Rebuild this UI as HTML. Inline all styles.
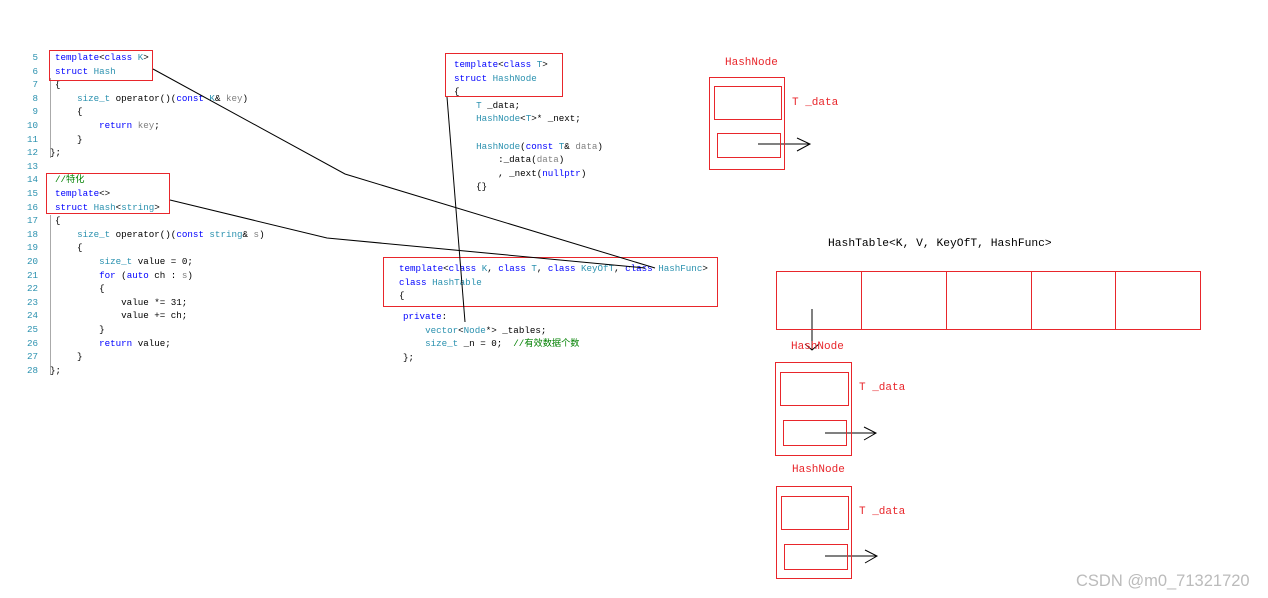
<!DOCTYPE html>
<html><head><meta charset="utf-8"><style>
body{margin:0;width:1268px;height:598px;background:#fff;position:relative;overflow:hidden;font-family:"Liberation Mono","Noto Sans CJK SC",monospace;}
.l{position:absolute;font-size:9.2px;line-height:13.6px;white-space:pre;color:#000;}
.n{position:absolute;font-size:9.2px;line-height:13.6px;color:#2b91af;width:20px;text-align:right;left:18px;}
.k{color:#0000ff}.t{color:#2b91af}.g{color:#808080}.c{color:#008000}
.r{position:absolute;border:1px solid #e8262b;box-sizing:border-box;}
.red{position:absolute;color:#e8262b;font-size:11px;white-space:pre;}
</style></head><body>
<div class="n" style="top:51px">5</div><div class="n" style="top:64.6px">6</div><div class="n" style="top:78.2px">7</div><div class="n" style="top:91.8px">8</div><div class="n" style="top:105.4px">9</div><div class="n" style="top:119px">10</div><div class="n" style="top:132.6px">11</div><div class="n" style="top:146.2px">12</div><div class="n" style="top:159.8px">13</div><div class="n" style="top:173.4px">14</div><div class="n" style="top:187px">15</div><div class="n" style="top:200.6px">16</div><div class="n" style="top:214.2px">17</div><div class="n" style="top:227.8px">18</div><div class="n" style="top:241.4px">19</div><div class="n" style="top:255px">20</div><div class="n" style="top:268.6px">21</div><div class="n" style="top:282.2px">22</div><div class="n" style="top:295.8px">23</div><div class="n" style="top:309.4px">24</div><div class="n" style="top:323px">25</div><div class="n" style="top:336.6px">26</div><div class="n" style="top:350.2px">27</div><div class="n" style="top:363.8px">28</div>
<div style="position:absolute;left:50px;top:78px;width:1px;height:80px;background:#aaa"></div>
<div style="position:absolute;left:50px;top:215px;width:1px;height:160px;background:#aaa"></div>
<div class="l" style="left:55px;top:51px"><span class="k">template</span>&lt;<span class="k">class</span> <span class="t">K</span>&gt;</div>
<div class="l" style="left:55px;top:64.6px"><span class="k">struct</span> <span class="t">Hash</span></div>
<div class="l" style="left:55px;top:78.2px">{</div>
<div class="l" style="left:55px;top:91.8px">    <span class="t">size_t</span> operator()(<span class="k">const</span> <span class="t">K</span>&amp; <span class="g">key</span>)</div>
<div class="l" style="left:55px;top:105.4px">    {</div>
<div class="l" style="left:55px;top:119px">        <span class="k">return</span> <span class="g">key</span>;</div>
<div class="l" style="left:55px;top:132.6px">    }</div>
<div class="l" style="left:50px;top:146.2px">};</div>
<div class="l" style="left:55px;top:173.4px"><span class="c">//特化</span></div>
<div class="l" style="left:55px;top:187px"><span class="k">template</span>&lt;&gt;</div>
<div class="l" style="left:55px;top:200.6px"><span class="k">struct</span> <span class="t">Hash</span>&lt;<span class="t">string</span>&gt;</div>
<div class="l" style="left:55px;top:214.2px">{</div>
<div class="l" style="left:55px;top:227.8px">    <span class="t">size_t</span> operator()(<span class="k">const</span> <span class="t">string</span>&amp; <span class="g">s</span>)</div>
<div class="l" style="left:55px;top:241.4px">    {</div>
<div class="l" style="left:55px;top:255px">        <span class="t">size_t</span> value = 0;</div>
<div class="l" style="left:55px;top:268.6px">        <span class="k">for</span> (<span class="k">auto</span> ch : <span class="g">s</span>)</div>
<div class="l" style="left:55px;top:282.2px">        {</div>
<div class="l" style="left:55px;top:295.8px">            value *= 31;</div>
<div class="l" style="left:55px;top:309.4px">            value += ch;</div>
<div class="l" style="left:55px;top:323px">        }</div>
<div class="l" style="left:55px;top:336.6px">        <span class="k">return</span> value;</div>
<div class="l" style="left:55px;top:350.2px">    }</div>
<div class="l" style="left:50px;top:363.8px">};</div>
<div class="r" style="left:49px;top:50px;width:104px;height:31px"></div>
<div class="r" style="left:46px;top:173px;width:124px;height:41px"></div>

<div class="l" style="left:454px;top:58px"><span class="k">template</span>&lt;<span class="k">class</span> <span class="t">T</span>&gt;</div>
<div class="l" style="left:454px;top:71.6px"><span class="k">struct</span> <span class="t">HashNode</span></div>
<div class="l" style="left:454px;top:85.2px">{</div>
<div class="l" style="left:454px;top:98.8px">    <span class="t">T</span> _data;</div>
<div class="l" style="left:454px;top:112.4px">    <span class="t">HashNode</span>&lt;<span class="t">T</span>&gt;* _next;</div>
<div class="l" style="left:454px;top:139.6px">    <span class="t">HashNode</span>(<span class="k">const</span> <span class="t">T</span>&amp; <span class="g">data</span>)</div>
<div class="l" style="left:454px;top:153.2px">        :_data(<span class="g">data</span>)</div>
<div class="l" style="left:454px;top:166.8px">        , _next(<span class="k">nullptr</span>)</div>
<div class="l" style="left:454px;top:180.4px">    {}</div>
<div class="r" style="left:445px;top:53px;width:118px;height:44px"></div>

<div class="l" style="left:399px;top:262px"><span class="k">template</span>&lt;<span class="k">class</span> <span class="t">K</span>, <span class="k">class</span> <span class="t">T</span>, <span class="k">class</span> <span class="t">KeyOfT</span>, <span class="k">class</span> <span class="t">HashFunc</span>&gt;</div>
<div class="l" style="left:399px;top:275.6px"><span class="k">class</span> <span class="t">HashTable</span></div>
<div class="l" style="left:399px;top:289.2px">{</div>
<div class="l" style="left:403px;top:310px"><span class="k">private</span>:</div>
<div class="l" style="left:403px;top:323.6px">    <span class="t">vector</span>&lt;<span class="t">Node</span>*&gt; _tables;</div>
<div class="l" style="left:403px;top:337.2px">    <span class="t">size_t</span> _n = 0;  <span class="c">//有效数据个数</span></div>
<div class="l" style="left:403px;top:350.8px">};</div>
<div class="r" style="left:383px;top:257px;width:335px;height:50px"></div>

<svg width="1268" height="598" style="position:absolute;left:0;top:0" fill="none" stroke="#000" stroke-width="1">
<polyline points="153,69 345,174 655,268"/>
<polyline points="170,200 327,238 645,268"/>
<line x1="447" y1="97" x2="465" y2="322"/>
<line x1="758" y1="144" x2="810" y2="144"/><polyline points="797,138 810,144 797,151"/>
<line x1="812" y1="309" x2="812" y2="350"/><polyline points="805,344 812,350 819,344"/>
<line x1="825" y1="433" x2="876" y2="433"/><polyline points="864,427 876,433 864,440"/>
<line x1="825" y1="556" x2="877" y2="556"/><polyline points="865,550 877,556 865,563"/>
</svg>

<div class="red" style="left:725px;top:57px">HashNode</div>
<div class="r" style="left:709px;top:77px;width:76px;height:93px"></div>
<div class="r" style="left:714px;top:86px;width:68px;height:34px"></div>
<div class="r" style="left:717px;top:133px;width:64px;height:25px"></div>
<div class="red" style="left:792px;top:97px">T _data</div>

<div style="position:absolute;left:828px;top:238px;font-size:11.3px;white-space:pre">HashTable&lt;K, V, KeyOfT, HashFunc&gt;</div>
<div class="r" style="left:776px;top:271px;width:425px;height:59px"></div>
<div style="position:absolute;left:861px;top:271px;width:1px;height:58px;background:#e8262b"></div>
<div style="position:absolute;left:946px;top:271px;width:1px;height:58px;background:#e8262b"></div>
<div style="position:absolute;left:1031px;top:271px;width:1px;height:58px;background:#e8262b"></div>
<div style="position:absolute;left:1115px;top:271px;width:1px;height:58px;background:#e8262b"></div>

<div class="red" style="left:791px;top:341px">HashNode</div>
<div class="r" style="left:775px;top:362px;width:77px;height:94px"></div>
<div class="r" style="left:780px;top:372px;width:69px;height:34px"></div>
<div class="r" style="left:783px;top:420px;width:64px;height:26px"></div>
<div class="red" style="left:859px;top:382px">T _data</div>

<div class="red" style="left:792px;top:464px">HashNode</div>
<div class="r" style="left:776px;top:486px;width:76px;height:93px"></div>
<div class="r" style="left:781px;top:496px;width:68px;height:34px"></div>
<div class="r" style="left:784px;top:544px;width:64px;height:26px"></div>
<div class="red" style="left:859px;top:506px">T _data</div>

<div style="position:absolute;left:1076px;top:572px;font-family:'Liberation Sans',sans-serif;font-size:16.5px;color:#bbb">CSDN @m0_71321720</div>
</body></html>
